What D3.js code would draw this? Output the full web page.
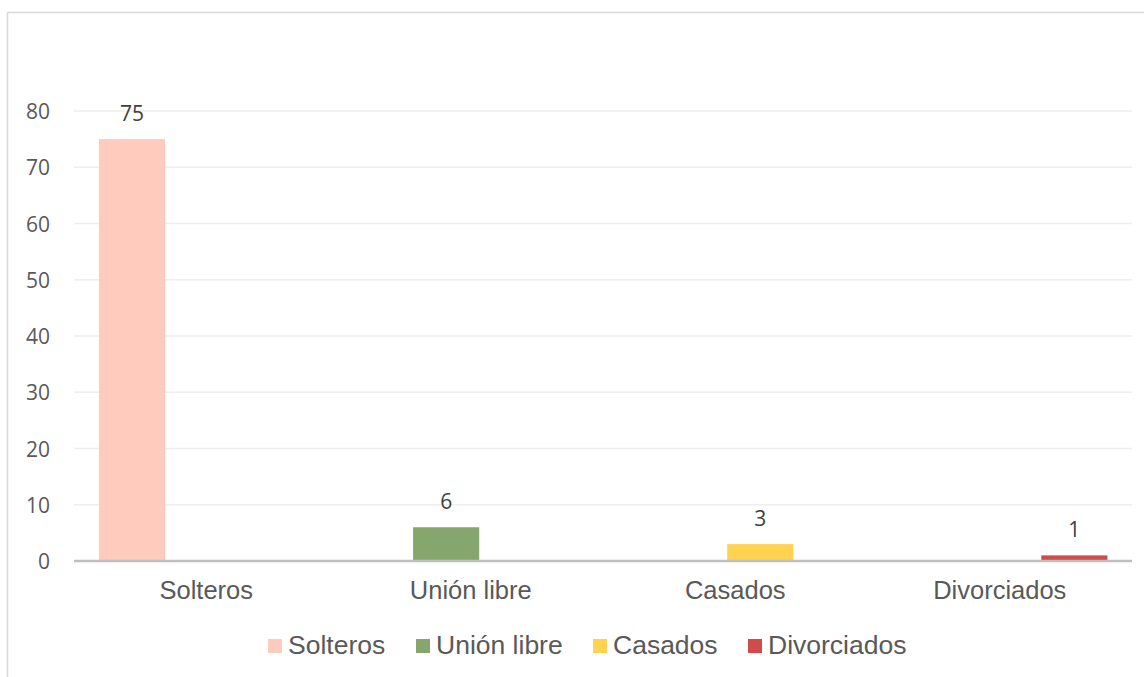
<!DOCTYPE html>
<html>
<head>
<meta charset="utf-8">
<script src="https://cdn.jsdelivr.net/npm/d3@7"></script>
<style>
  html, body { margin: 0; padding: 0; background: #ffffff; }
  svg { display: block; }
</style>
</head>
<body>
<svg id="chart" width="1144" height="677"></svg>
<script>
// Estado civil: one series per category, Excel-style clustered columns
const categories = ["Solteros", "Unión libre", "Casados", "Divorciados"];
const seriesNames = ["Solteros", "Unión libre", "Casados", "Divorciados"];
const seriesValues = [75, 6, 3, 1];
const seriesColors = ["#ffcbbd", "#85a76d", "#ffd24f", "#d24b4b"];
const yTicks = [0, 10, 20, 30, 40, 50, 60, 70, 80];

const svg = d3.select("#chart");
const W = 1144, H = 677;
const plot = { left: 74, right: 1132, top: 111, bottom: 561 };

const numFont = "'Open Sans', 'Noto Sans', sans-serif";
const txtFont = "'Liberation Sans', Arial, sans-serif";

// chart area border
svg.append("rect")
  .attr("x", 7.5).attr("y", 12.5)
  .attr("width", W + 10).attr("height", H + 10)
  .attr("fill", "#ffffff")
  .attr("stroke", "#d9d9d9").attr("stroke-width", 1.5);

const x0 = d3.scaleBand()
  .domain(categories)
  .range([plot.left, plot.right])
  .paddingInner(0).paddingOuter(0);

// series slots inside each category band (gap width ~76%, overlap ~25%)
const bw = x0.bandwidth();
const barW = bw * 0.25;
const slotStep = barW * 0.75;
const x1 = d3.scaleBand()
  .domain(seriesNames)
  .range([bw * 0.0945, bw * 0.0945 + slotStep * seriesNames.length])
  .paddingInner(0).paddingOuter(0);

const y = d3.scaleLinear().domain([0, 80]).range([plot.bottom, plot.top]);

// gridlines
svg.append("g")
  .selectAll("line")
  .data(yTicks.filter(d => d > 0))
  .join("line")
  .attr("x1", plot.left).attr("x2", plot.right)
  .attr("y1", d => y(d)).attr("y2", d => y(d))
  .attr("stroke", "#eeeeee").attr("stroke-width", 1.5);

// y axis tick labels
const yAxis = d3.axisLeft(y).tickValues(yTicks).tickSize(0).tickPadding(0);
const gy = svg.append("g").attr("transform", `translate(50,0)`).call(yAxis);
gy.select(".domain").remove();
gy.selectAll("text")
  .attr("font-family", numFont).attr("font-size", 21)
  .attr("fill", "#595959").attr("dy", "0.36em");

// bars
const data = seriesNames.map((s, i) => ({ series: s, category: categories[i], value: seriesValues[i], color: seriesColors[i] }));

svg.append("g")
  .selectAll("rect")
  .data(data)
  .join("rect")
  .attr("x", d => x0(d.category) + x1(d.series))
  .attr("y", d => y(d.value))
  .attr("width", barW)
  .attr("height", d => y(0) - y(d.value))
  .attr("fill", d => d.color);

// data labels
svg.append("g")
  .selectAll("text")
  .data(data)
  .join("text")
  .attr("x", d => x0(d.category) + x1(d.series) + barW / 2)
  .attr("y", d => y(d.value) - 18)
  .attr("text-anchor", "middle")
  .attr("font-family", numFont).attr("font-size", 21)
  .attr("fill", "#404040")
  .text(d => d.value);

// x axis
const xAxis = d3.axisBottom(x0).tickSize(0).tickPadding(0);
const gx = svg.append("g").attr("transform", `translate(0,${plot.bottom})`).call(xAxis);
gx.select(".domain").attr("stroke", "#bfbfbf").attr("stroke-width", 2.5)
  .attr("d", `M${plot.left},0H${plot.right}`);
gx.selectAll("text")
  .attr("font-family", txtFont).attr("font-size", 25.5)
  .attr("fill", "#595959").attr("y", 38).attr("dy", 0);

// legend
const legendItems = [
  { name: seriesNames[0], x: 268 },
  { name: seriesNames[1], x: 416 },
  { name: seriesNames[2], x: 593 },
  { name: seriesNames[3], x: 748 }
];
const lg = svg.append("g");
legendItems.forEach((it, i) => {
  lg.append("rect")
    .attr("x", it.x).attr("y", 639)
    .attr("width", 14).attr("height", 14)
    .attr("fill", seriesColors[i]);
  lg.append("text")
    .attr("x", it.x + 20).attr("y", 654)
    .attr("font-family", txtFont).attr("font-size", 26.5)
    .attr("fill", "#595959")
    .text(it.name);
});
</script>
</body>
</html>
